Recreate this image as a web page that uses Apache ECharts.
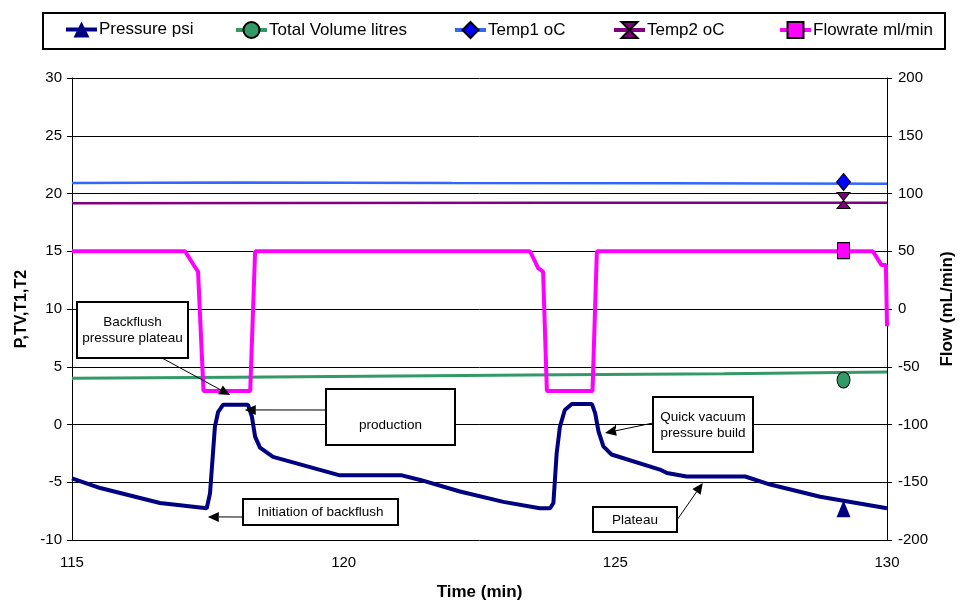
<!DOCTYPE html>
<html>
<head>
<meta charset="utf-8">
<script src="https://cdn.jsdelivr.net/npm/echarts@6/dist/echarts.min.js"></script>
<style>
  html, body { margin: 0; padding: 0; background: #fff; }
  #chart { width: 961px; height: 604px; }
</style>
</head>
<body>
<div id="chart"></div>
<script>
const FONT = '"Liberation Sans", Arial, sans-serif'

// time (min), value
const pressure = [
  [115.0, -4.66], [115.52, -5.5], [116.62, -6.8], [117.48, -7.25], [117.54, -5.96],
  [117.63, -0.2], [117.69, 1.1], [117.78, 1.7], [118.24, 1.7], [118.31, 0.7],
  [118.37, -1.05], [118.46, -2.0], [118.7, -2.8], [119.93, -4.4], [121.07, -4.4],
  [121.41, -4.8], [122.14, -5.8], [122.94, -6.7], [123.61, -7.25], [123.8, -7.25],
  [123.86, -6.8], [123.92, -2.5], [123.98, -0.2], [124.07, 1.25], [124.2, 1.77],
  [124.57, 1.77], [124.63, 0.97], [124.69, -0.6], [124.78, -1.9], [124.93, -2.6],
  [125.82, -3.9], [125.95, -4.2], [126.31, -4.5], [127.39, -4.5], [127.85, -5.2],
  [128.77, -6.25], [130.0, -7.25]
]
const totalVolume = [[115, 4.0], [118, 4.1], [121, 4.2], [124, 4.3], [127, 4.4], [130, 4.55]]
const temp1 = [[115, 20.9], [118, 20.95], [122, 20.9], [126, 20.88], [130, 20.85]]
const temp2 = [[115, 19.15], [119, 19.17], [124, 19.2], [130, 19.2]]
const flowrate = [
  [115, 50], [117.08, 50], [117.26, 36.6], [117.32, 32.3], [117.42, -71], [118.28, -71],
  [118.37, 50], [123.43, 50], [123.58, 35.3], [123.67, 32.3], [123.74, -71], [124.58, -71],
  [124.66, 50], [129.74, 50], [129.9, 38], [129.98, 38], [130, -15]
]
// single marker points
const pressureMark = [[129.2, -7.3]]
const totalVolumeMark = [[129.2, 3.85]]
const temp1Mark = [[129.2, 21.0]]
const temp2Mark = [[129.2, 19.4]]
const flowrateMark = [[129.2, 50.5]]

const names = ['Pressure psi', 'Total Volume litres', 'Temp1 oC', 'Temp2 oC', 'Flowrate ml/min']
const legendLeft = [64, 234, 453, 612, 778]

const bowtie = 'path://M0,0L10,0L5,8L10,16L0,16L5,8Z'

// annotations: box in px, arrow tip in data coords
const notes = [
  { text: 'Backflush\npressure plateau', box: [77, 302, 111, 56], from: [162, 358], tip: [117.91, 2.55], textY: 330 },
  { text: 'production', box: [326, 389, 129, 56], from: [326, 410], tip: [118.18, 1.26], textY: 425 },
  { text: 'Initiation of backflush', box: [243, 499, 155, 26], from: [243, 517], tip: [117.5, -8.0], textY: 512 },
  { text: 'Quick vacuum\npressure build', box: [653, 397, 100, 55], from: [653, 423], tip: [124.81, -0.74], textY: 425 },
  { text: 'Plateau', box: [593, 507, 84, 25], from: [677, 520], tip: [126.61, -5.06], textY: 520 }
]

const chart = echarts.init(document.getElementById('chart'))

function lineSeries (name, data, color, width, symbol, markColor, yAxisIndex) {
  return {
    name, type: 'line', data, yAxisIndex,
    symbol, showSymbol: false, animation: false,
    lineStyle: { color, width },
    itemStyle: { color: markColor, borderColor: '#000', borderWidth: symbol === 'triangle' ? 0 : 1 },
    z: 3
  }
}
function markSeries (name, data, symbol, size, color, yAxisIndex, border) {
  return {
    name: name + ' mark', type: 'scatter', data, yAxisIndex, symbol, symbolSize: size,
    itemStyle: { color, borderColor: '#000', borderWidth: border ? 1 : 0, opacity: 1 },
    animation: false, silent: true, z: 5
  }
}

chart.setOption({
  animation: false,
  textStyle: { fontFamily: FONT },
  grid: { left: 72, right: 74, top: 78, bottom: 64, containLabel: false, outerBoundsMode: 'none' },
  legend: names.map((n, i) => ({
    data: [n], left: legendLeft[i], top: 21, itemWidth: 31, itemHeight: 20, padding: 0,
    lineStyle: { width: 4 },
    textStyle: { fontSize: 17, color: '#000', fontFamily: FONT, padding: [0, 0, 0, -3] },
    selectedMode: false
  })),
  xAxis: {
    type: 'value', min: 115, max: 130, interval: 5,
    name: 'Time (min)', nameLocation: 'middle', nameGap: 44, nameMoveOverlap: false,
    nameTextStyle: { fontSize: 17, fontWeight: 'bold', color: '#000' },
    axisLine: { lineStyle: { color: '#000', width: 1 } },
    axisTick: { length: 4, lineStyle: { color: '#000' } },
    axisLabel: { fontSize: 15, color: '#000', margin: 15 },
    splitLine: { show: false }
  },
  yAxis: [
    {
      type: 'value', min: -10, max: 30, interval: 5,
      name: 'P,TV,T1,T2', nameLocation: 'middle', nameGap: 42, nameRotate: 90, nameMoveOverlap: false,
      nameTextStyle: { fontSize: 16, fontWeight: 'bold', color: '#000' },
      axisLine: { show: true, lineStyle: { color: '#000', width: 1 } },
      axisTick: { show: true, length: 5, lineStyle: { color: '#000' } },
      axisLabel: { fontSize: 15, color: '#000', margin: 10 },
      splitLine: { show: true, lineStyle: { color: '#000', width: 1 } }
    },
    {
      type: 'value', min: -200, max: 200, interval: 50, position: 'right',
      name: 'Flow (mL/min)', nameLocation: 'middle', nameGap: 52, nameRotate: 90, nameMoveOverlap: false,
      nameTextStyle: { fontSize: 17, fontWeight: 'bold', color: '#000' },
      axisLine: { show: true, lineStyle: { color: '#000', width: 1 } },
      axisTick: { show: true, length: 5, lineStyle: { color: '#000' } },
      axisLabel: { fontSize: 15, color: '#000', margin: 11 },
      splitLine: { show: false }
    }
  ],
  series: [
    lineSeries(names[0], pressure, '#000080', 4, 'triangle', '#000080', 0),
    lineSeries(names[1], totalVolume, '#339966', 3, 'circle', '#339966', 0),
    lineSeries(names[2], temp1, '#3366FF', 2.5, 'diamond', '#0000FF', 0),
    lineSeries(names[3], temp2, '#800080', 2.5, bowtie, '#800080', 0),
    lineSeries(names[4], flowrate, '#FF00FF', 4, 'rect', '#FF00FF', 1),
    markSeries(names[0], pressureMark, 'triangle', [14, 17], '#000080', 0, false),
    markSeries(names[1], totalVolumeMark, 'circle', [13, 16], '#339966', 0, true),
    markSeries(names[2], temp1Mark, 'diamond', [14, 17], '#0000FF', 0, true),
    markSeries(names[3], temp2Mark, bowtie, [13, 16], '#800080', 0, true),
    markSeries(names[4], flowrateMark, 'rect', [12, 16], '#FF00FF', 1, true)
  ]
})

// annotation boxes and arrows
const elements = [
  { type: 'rect', shape: { x: 43, y: 13, width: 902, height: 36 }, style: { fill: 'none', stroke: '#000', lineWidth: 2 }, z: 0 }
]
notes.forEach(n => {
  const [bx, by, bw, bh] = n.box
  const tip = chart.convertToPixel({ xAxisIndex: 0, yAxisIndex: 0 }, n.tip)
  const [fx, fy] = n.from
  const dx = tip[0] - fx
  const dy = tip[1] - fy
  const len = Math.sqrt(dx * dx + dy * dy)
  const ux = dx / len
  const uy = dy / len
  const hl = 11
  const hw = 5
  const bxp = tip[0] - ux * hl
  const byp = tip[1] - uy * hl
  elements.push({
    type: 'line', z: 100,
    shape: { x1: fx, y1: fy, x2: bxp, y2: byp },
    style: { stroke: '#000', lineWidth: 1 }
  })
  elements.push({
    type: 'polygon', z: 100,
    shape: { points: [tip, [bxp - uy * hw, byp + ux * hw], [bxp + uy * hw, byp - ux * hw]] },
    style: { fill: '#000' }
  })
  elements.push({
    type: 'rect', z: 100,
    shape: { x: bx, y: by, width: bw, height: bh },
    style: { fill: '#fff', stroke: '#000', lineWidth: 2 }
  })
  elements.push({
    type: 'text', z: 101,
    style: {
      text: n.text, x: bx + bw / 2, y: n.textY,
      textAlign: 'center', textVerticalAlign: 'middle', align: 'center', verticalAlign: 'middle',
      font: '13.5px ' + FONT, fill: '#000', lineHeight: 16
    }
  })
})
chart.setOption({ graphic: { elements } })
</script>
</body>
</html>
